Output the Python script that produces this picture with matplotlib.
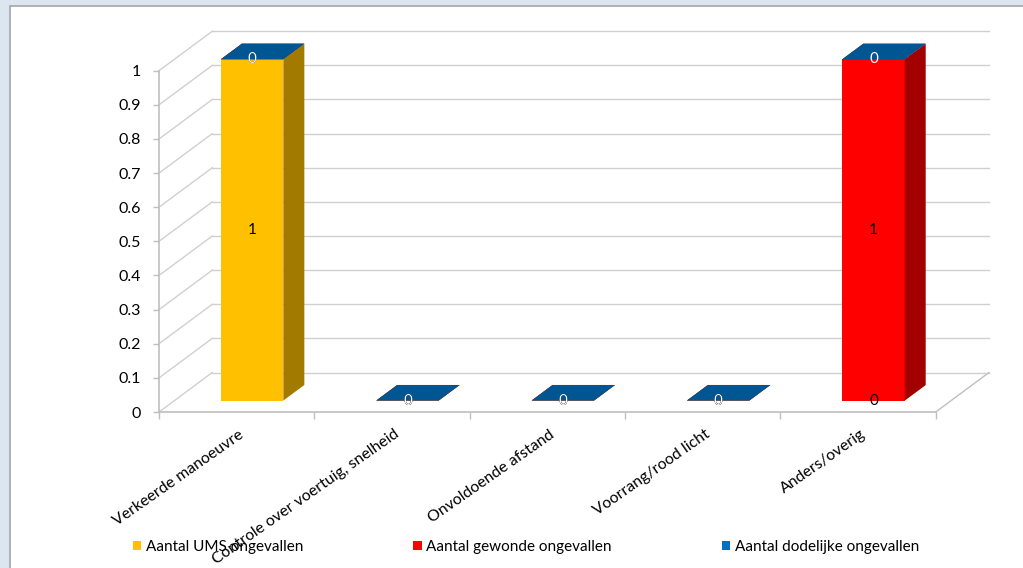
"""
Oorzaken van ongevallen: 3D-gestapelde kolommen in Excel-stijl.
"""

import matplotlib

matplotlib.use("Agg")
import matplotlib.pyplot as plt
from matplotlib.patches import Patch, Polygon, Rectangle
from matplotlib.transforms import ScaledTranslation

categories = [
    "Verkeerde manoeuvre",
    "Controle over voertuig, snelheid",
    "Onvoldoende afstand",
    "Voorrang/rood licht",
    "Anders/overig",
]
ums = [1, 0, 0, 0, 0]
gewond = [0, 0, 0, 0, 1]
dodelijk = [0, 0, 0, 0, 0]
series_names = ["Aantal UMS ongevallen", "Aantal gewonde ongevallen", "Aantal dodelijke ongevallen"]
y_ticks = [0, 0.1, 0.2, 0.3, 0.4, 0.5, 0.6, 0.7, 0.8, 0.9, 1]
y_ticklabels = ["0", "0.1", "0.2", "0.3", "0.4", "0.5", "0.6", "0.7", "0.8", "0.9", "1"]

# front face colours, label colours
colors = ["#FFC000", "#FF0000", "#0070C0"]
label_colors = ["black", "black", "white"]

# oblique depth (full depth in data units) and bar placement in depth
DX, DY = 0.343, 0.1157
D0, D1 = 0.29, 0.684
BAR_W = 0.402
GRID = "#d0d0d0"
AXIS = "#bfbfbf"

plt.rcParams["font.family"] = ["Lato", "DejaVu Sans"]


def shade(hex_color, f):
    r, g, b = (int(hex_color[i : i + 2], 16) for i in (1, 3, 5))
    return "#{:02x}{:02x}{:02x}".format(int(r * f), int(g * f), int(b * f))


def proj(x, v, d):
    return (x + d * DX, v + d * DY)


fig = plt.figure(figsize=(10.23, 5.68), dpi=100, facecolor="#DCE6F1")
fig.patches.append(
    Rectangle(
        (10 / 1023, -0.05), 1.1, 1 - 6 / 568 + 0.05,
        transform=fig.transFigure, facecolor="white", edgecolor="#a6a6a6", lw=1.2, zorder=-10,
    )
)

ax = fig.add_axes([159 / 1023, 1 - 412 / 568, 776.7 / 1023, 341.3 / 568])
ax.set_facecolor("none")
n = len(categories)
ax.set_xlim(0, n)
ax.set_ylim(0, 1)

# back wall gridlines and side wall
for v in y_ticks:
    (x0, y0), (x1, y1) = proj(0, v, 1), proj(n, v, 1)
    ax.plot([x0, x1], [y0, y1], color=GRID, lw=1, clip_on=False, zorder=1)
    (x0, y0), (x1, y1) = proj(0, v, 0), proj(0, v, 1)
    ax.plot([x0, x1], [y0, y1], color=GRID, lw=1, clip_on=False, zorder=1)
# floor right edge
(x0, y0), (x1, y1) = proj(n, 0, 0), proj(n, 0, 1)
ax.plot([x0, x1], [y0, y1], color=AXIS, lw=1, clip_on=False, zorder=1)

# stacked 3D columns
stack = [ums, gewond, dodelijk]
for i in range(n):
    left, right = i + 0.5 - BAR_W / 2, i + 0.5 + BAR_W / 2
    base = 0
    for s, values in enumerate(stack):
        top = base + values[i]
        front = [proj(left, base, D0), proj(right, base, D0), proj(right, top, D0), proj(left, top, D0)]
        side = [proj(right, base, D0), proj(right, base, D1), proj(right, top, D1), proj(right, top, D0)]
        lid = [proj(left, top, D0), proj(right, top, D0), proj(right, top, D1), proj(left, top, D1)]
        ax.add_patch(Polygon(front, closed=True, fc=colors[s], lw=0, clip_on=False, zorder=3))
        ax.add_patch(Polygon(side, closed=True, fc=shade(colors[s], 0.64), lw=0, clip_on=False, zorder=3))
        ax.add_patch(Polygon(lid, closed=True, fc=shade(colors[s], 0.77), lw=0, clip_on=False, zorder=3))
        base = top

# data labels on the front faces
for i in range(n):
    base = 0
    for s, values in enumerate(stack):
        x, y = proj(i + 0.5, base + values[i] / 2, D0)
        ax.text(x, y, str(values[i]), ha="center", va="center", fontsize=11,
                color=label_colors[s], zorder=5)
        base += values[i]

# axes styling
for side in ("top", "right"):
    ax.spines[side].set_visible(False)
for side in ("left", "bottom"):
    ax.spines[side].set_color(AXIS)
    ax.spines[side].set_linewidth(1.2)
    ax.spines[side].set_zorder(2)

ax.set_yticks(y_ticks)
ax.set_yticklabels(y_ticklabels, fontsize=11.5)
ax.tick_params(axis="y", length=4, width=1, color=AXIS, pad=9)

ax.set_xticks(range(n + 1))
ax.set_xticklabels([])
ax.tick_params(axis="x", which="major", length=5, width=1, color=AXIS)
ax.set_xticks([i + 0.5 for i in range(n)], minor=True)
ax.set_xticklabels(categories, minor=True, rotation=35, ha="right", va="top",
                   rotation_mode="anchor", fontsize=11.4)
ax.tick_params(axis="x", which="minor", length=0, pad=11)
offset = ScaledTranslation(2 / 100, 0, fig.dpi_scale_trans)
for lbl in ax.get_xticklabels(minor=True):
    lbl.set_transform(lbl.get_transform() + offset)

handles = [Patch(facecolor=c, edgecolor="none") for c in colors]
fig.legend(handles, series_names, loc="center", bbox_to_anchor=(0.514, 0.037), ncol=3,
           frameon=False, fontsize=11, handlelength=0.55, handleheight=0.55,
           handletextpad=0.3, columnspacing=7.2)

fig.savefig("out.png", dpi=100, facecolor=fig.get_facecolor())
